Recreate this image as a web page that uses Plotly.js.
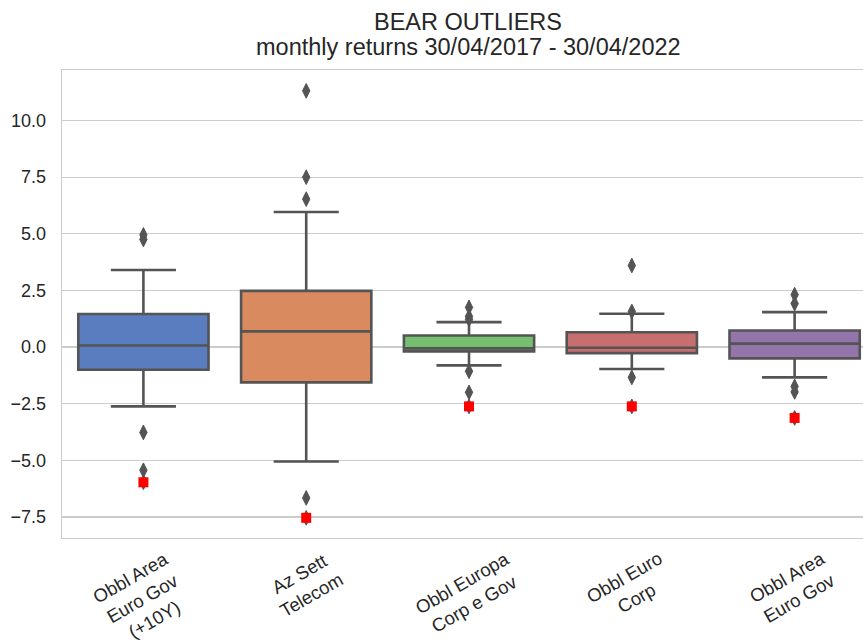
<!DOCTYPE html>
<html>
<head>
<meta charset="utf-8">
<script src="https://cdn.plot.ly/plotly-3.0.1.min.js"></script>
<style>
  html, body { margin: 0; padding: 0; background: #ffffff; }
  #chart { width: 863px; height: 642px; }
</style>
</head>
<body>
<div id="chart"></div>
<script>
// ---- data ----
const titleText = "BEAR OUTLIERS";
const subtitleText = "monthly returns 30/04/2017 - 30/04/2022";
const categories = [
  "Obbl Area Euro Gov (+10Y)",
  "Az Sett Telecom",
  "Obbl Europa Corp e Gov",
  "Obbl Euro Corp",
  "Obbl Area Euro Gov"
];
const tickLabels = [
  "Obbl Area<br>Euro Gov<br>(+10Y)",
  "Az Sett<br>Telecom",
  "Obbl Europa<br>Corp e Gov",
  "Obbl Euro<br>Corp",
  "Obbl Area<br>Euro Gov"
];
const lowerFence = [-2.62, -5.05, -0.81, -0.97, -1.34];
const q1Values   = [-1.00, -1.56, -0.19, -0.27, -0.50];
const medians    = [ 0.07,  0.69, -0.06, -0.03,  0.15];
const q3Values   = [ 1.46,  2.48,  0.51,  0.65,  0.73];
const upperFence = [ 3.40,  5.96,  1.10,  1.47,  1.54];
const outliers = [
  [4.95, 4.75, -3.77, -5.44, -5.97],
  [11.31, 7.50, 6.53, -6.66, -7.54],
  [1.75, 1.35, 1.22, -1.07, -2.00, -2.62],
  [3.60, 1.57, -1.34, -2.62],
  [2.31, 1.92, -1.74, -1.98, -3.13]
];
const bearValues = [-5.97, -7.54, -2.62, -2.62, -3.13];
const boxColors = ["#597dbf", "#d98b5f", "#76bf71", "#c76e6e", "#9475ab"];
const yTicks = [-7.5, -5.0, -2.5, 0.0, 2.5, 5.0, 7.5, 10.0];

// ---- styling ----
const lineGray = "#545454";
const fontFamily = "'Liberation Sans', Arial, sans-serif";
const textColor = "#262626";

const traces = [];
categories.forEach((cat, i) => {
  traces.push({
    type: "box",
    x: [cat],
    q1: [q1Values[i]],
    median: [medians[i]],
    q3: [q3Values[i]],
    lowerfence: [lowerFence[i]],
    upperfence: [upperFence[i]],
    boxpoints: false,
    width: 0.8,
    whiskerwidth: 0.5,
    fillcolor: boxColors[i],
    line: { color: lineGray, width: 2.6 },
    hoverinfo: "skip",
    showlegend: false
  });
});
categories.forEach((cat, i) => {
  traces.push({
    type: "scatter",
    mode: "markers",
    x: outliers[i].map(() => cat),
    y: outliers[i],
    marker: { symbol: "diamond-tall", size: 10.5, color: lineGray, line: { color: lineGray, width: 1 } },
    hoverinfo: "skip",
    showlegend: false
  });
});
traces.push({
  type: "scatter",
  mode: "markers",
  x: categories,
  y: bearValues,
  marker: { symbol: "square", size: 10, color: "#ff0000" },
  hoverinfo: "skip",
  showlegend: false
});

const annotations = categories.map((cat, i) => ({
  x: cat,
  xref: "x",
  y: 0,
  yref: "paper",
  yshift: -7,
  xshift: -1,
  text: tickLabels[i],
  textangle: -30,
  showarrow: false,
  xanchor: "center",
  yanchor: "top",
  align: "center",
  font: { family: fontFamily, size: 18.5, color: textColor }
}));
annotations.push({
  x: (468 - 62) / 801,
  xref: "paper",
  y: 1,
  yref: "paper",
  yshift: 23,
  text: subtitleText,
  showarrow: false,
  xanchor: "center",
  yanchor: "middle",
  font: { family: fontFamily, size: 23.5, color: textColor }
});

const layout = {
  width: 863,
  height: 642,
  margin: { l: 62, r: 0, t: 70, b: 104, pad: 0 },
  paper_bgcolor: "#ffffff",
  plot_bgcolor: "#ffffff",
  font: { family: fontFamily, size: 18, color: textColor },
  title: {
    text: titleText,
    font: { family: fontFamily, size: 23.5, color: textColor },
    xref: "container",
    x: 468 / 863,
    xanchor: "center",
    yref: "container",
    y: 1 - 22 / 642,
    yanchor: "middle"
  },
  boxmode: "overlay",
  xaxis: {
    type: "category",
    categoryorder: "array",
    categoryarray: categories,
    range: [-0.5, 4.42],
    showticklabels: false,
    showgrid: false,
    zeroline: false,
    ticks: "",
    showline: true,
    mirror: true,
    linecolor: "#cccccc",
    linewidth: 1.3
  },
  yaxis: {
    range: [-8.43, 12.23],
    tickvals: yTicks,
    ticktext: yTicks.map(v => (v < 0 ? "\u2212" : "") + Math.abs(v).toFixed(1)),
    tickfont: { family: fontFamily, size: 18, color: textColor },
    showgrid: true,
    gridcolor: "#cccccc",
    gridwidth: 1.2,
    zeroline: false,
    ticks: "",
    ticklabelstandoff: 11,
    showline: true,
    mirror: false,
    linecolor: "#cccccc",
    linewidth: 1.3
  },
  annotations: annotations
};

Plotly.newPlot("chart", traces, layout, { staticPlot: true, displayModeBar: false });
</script>
</body>
</html>
